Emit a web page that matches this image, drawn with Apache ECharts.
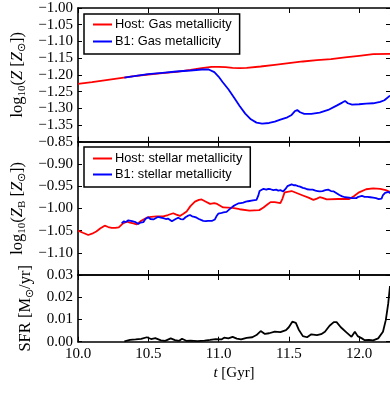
<!DOCTYPE html>
<html><head><meta charset="utf-8">
<script src="https://cdn.jsdelivr.net/npm/echarts@6/dist/echarts.min.js"></script>
<style>html,body{margin:0;padding:0;background:#fff}#c{width:390px;height:402px}</style>
</head><body><div id="c"></div>
<script>
// ---- data ----
const xTicks = [10.0, 10.5, 11.0, 11.5, 12.0];

const hostGasT = [10.00,10.10,10.20,10.30,10.40,10.50,10.60,10.70,10.80,10.88,10.95,11.00,11.05,11.10,11.15,11.20,11.30,11.40,11.50,11.60,11.70,11.80,11.90,12.00,12.10,12.22];
const hostGasZ = [-1.227,-1.222,-1.216,-1.210,-1.204,-1.199,-1.195,-1.191,-1.185,-1.180,-1.176,-1.176,-1.177,-1.179,-1.180,-1.179,-1.175,-1.170,-1.165,-1.160,-1.156,-1.153,-1.148,-1.143,-1.138,-1.137];

const b1GasT = [10.33,10.40,10.50,10.60,10.70,10.80,10.88,10.93,10.97,11.00,11.03,11.07,11.11,11.15,11.19,11.23,11.27,11.31,11.36,11.40,11.44,11.49,11.52,11.545,11.56,11.58,11.61,11.66,11.72,11.78,11.84,11.88,11.90,11.92,11.95,12.00,12.05,12.10,12.15,12.18,12.22];
const b1GasZ = [-1.208,-1.204,-1.198,-1.194,-1.190,-1.187,-1.184,-1.184,-1.192,-1.205,-1.222,-1.243,-1.268,-1.293,-1.316,-1.333,-1.343,-1.346,-1.344,-1.340,-1.334,-1.327,-1.320,-1.308,-1.305,-1.312,-1.317,-1.317,-1.313,-1.305,-1.292,-1.283,-1.278,-1.285,-1.289,-1.288,-1.286,-1.285,-1.281,-1.276,-1.262];

const hostStT = [10.000,10.035,10.073,10.100,10.130,10.160,10.190,10.215,10.240,10.265,10.290,10.320,10.346,10.370,10.394,10.417,10.450,10.489,10.520,10.560,10.607,10.640,10.678,10.700,10.725,10.750,10.773,10.800,10.832,10.860,10.880,10.910,10.940,10.970,10.990,11.033,11.100,11.150,11.220,11.290,11.320,11.345,11.370,11.400,11.440,11.455,11.470,11.520,11.560,11.600,11.640,11.675,11.700,11.720,11.745,11.770,11.850,11.930,11.965,12.000,12.050,12.100,12.150,12.190,12.220];
const hostStZ = [-1.050,-1.055,-1.060,-1.057,-1.052,-1.045,-1.039,-1.042,-1.044,-1.044,-1.043,-1.034,-1.030,-1.032,-1.034,-1.036,-1.028,-1.021,-1.019,-1.018,-1.018,-1.015,-1.011,-1.014,-1.017,-1.012,-1.007,-0.995,-0.985,-0.981,-0.980,-0.985,-0.990,-0.988,-0.990,-0.998,-0.999,-1.002,-1.005,-1.004,-0.998,-0.992,-0.986,-0.986,-0.988,-0.978,-0.964,-0.961,-0.966,-0.971,-0.976,-0.981,-0.978,-0.975,-0.977,-0.980,-0.979,-0.979,-0.972,-0.964,-0.957,-0.955,-0.956,-0.959,-0.963];

const b1StT = [10.311,10.325,10.340,10.358,10.372,10.385,10.394,10.410,10.429,10.445,10.465,10.480,10.492,10.500,10.515,10.536,10.550,10.571,10.590,10.607,10.625,10.640,10.654,10.668,10.678,10.695,10.713,10.730,10.749,10.765,10.780,10.797,10.812,10.828,10.844,10.860,10.875,10.891,10.910,10.925,10.939,10.955,10.974,10.985,10.998,11.015,11.035,11.057,11.075,11.090,11.105,11.122,11.140,11.158,11.176,11.195,11.210,11.223,11.245,11.270,11.282,11.292,11.305,11.320,11.340,11.355,11.370,11.390,11.410,11.425,11.440,11.460,11.475,11.490,11.500,11.520,11.535,11.550,11.565,11.580,11.600,11.615,11.630,11.650,11.670,11.690,11.705,11.720,11.740,11.760,11.780,11.800,11.820,11.840,11.860,11.880,11.900,11.910,11.930,11.950,11.980,11.995,12.006,12.020,12.040,12.060,12.080,12.100,12.120,12.140,12.150,12.160,12.170,12.185,12.195,12.210,12.220];
const b1StZ = [-1.034,-1.029,-1.031,-1.027,-1.031,-1.029,-1.033,-1.031,-1.035,-1.032,-1.031,-1.024,-1.021,-1.020,-1.024,-1.025,-1.021,-1.019,-1.021,-1.022,-1.024,-1.023,-1.026,-1.029,-1.030,-1.024,-1.021,-1.024,-1.025,-1.020,-1.017,-1.015,-1.018,-1.019,-1.021,-1.024,-1.026,-1.028,-1.029,-1.028,-1.031,-1.028,-1.025,-1.018,-1.012,-1.011,-1.009,-1.008,-1.003,-0.999,-0.995,-0.992,-0.989,-0.988,-0.987,-0.985,-0.984,-0.983,-0.982,-0.981,-0.972,-0.961,-0.958,-0.956,-0.958,-0.956,-0.957,-0.959,-0.958,-0.960,-0.959,-0.962,-0.957,-0.950,-0.947,-0.946,-0.948,-0.948,-0.950,-0.951,-0.954,-0.955,-0.957,-0.958,-0.958,-0.960,-0.961,-0.962,-0.961,-0.959,-0.958,-0.961,-0.962,-0.966,-0.970,-0.973,-0.975,-0.977,-0.976,-0.977,-0.977,-0.974,-0.972,-0.972,-0.974,-0.974,-0.975,-0.976,-0.977,-0.979,-0.981,-0.978,-0.970,-0.965,-0.962,-0.963,-0.966];

const sfrT = [10.33,10.37,10.41,10.45,10.49,10.52,10.55,10.59,10.62,10.66,10.69,10.72,10.74,10.77,10.80,10.85,10.90,10.94,10.98,11.02,11.04,11.07,11.10,11.13,11.16,11.20,11.24,11.27,11.30,11.33,11.36,11.40,11.44,11.48,11.50,11.525,11.55,11.57,11.60,11.63,11.66,11.70,11.73,11.757,11.79,11.82,11.84,11.87,11.91,11.946,11.97,11.99,12.02,12.04,12.07,12.10,12.136,12.15,12.17,12.19,12.207,12.22];
const sfrV = [0.0002,0.0008,0.0010,0.0013,0.0020,0.0012,0.0016,0.0006,0.0004,0.0015,0.0007,0.0004,0.0013,0.0004,0.0005,0.0003,0.0005,0.0008,0.0012,0.0010,0.0018,0.0015,0.0022,0.0014,0.0010,0.0017,0.0020,0.0030,0.0048,0.0035,0.0038,0.0045,0.0043,0.0052,0.0065,0.0090,0.0085,0.0055,0.0025,0.0020,0.0033,0.0030,0.0034,0.0045,0.0072,0.0088,0.0088,0.0065,0.0042,0.0022,0.0045,0.0025,0.0015,0.0007,0.0008,0.0006,0.0015,0.0020,0.0045,0.0097,0.0170,0.0250];

const names = ['Host: Gas metallicity','B1: Gas metallicity','Host: stellar metallicity','B1: stellar metallicity','SFR'];
// ---------------------------------------

const zip = (a, b) => a.map((v, i) => [v, b[i]]);
const SERIF = 'Liberation Serif';
const SANS = 'Liberation Sans';
const RED = '#ff0000', BLUE = '#0000ff';
const X_MIN = 10, X_MAX = 12.22;

const grids = [
  {left: 78, right: 0, top: 8, height: 133.7},
  {left: 78, right: 0, top: 141.7, height: 133.3},
  {left: 78, right: 0, top: 275, height: 66.7}
];
const yCfg = [
  {min: -1.40, max: -1.00, interval: 0.05, hideMin: true},
  {min: -1.15, max: -0.85, interval: 0.05, hideMin: true},
  {min: 0, max: 0.03, interval: 0.01, hideMin: false}
];
const fmtY = v => (v < 0 ? '\u2212' : '') + Math.abs(v).toFixed(2);
const rich = {
  t: {fontFamily: SERIF, fontSize: 15, color: '#000', lineHeight: 18},
  i: {fontFamily: SERIF, fontSize: 15, fontStyle: 'italic', color: '#000', lineHeight: 18},
  s: {fontFamily: SERIF, fontSize: 10, color: '#000', lineHeight: 10, verticalAlign: 'bottom'}
};
const richY = {
  t: {fontFamily: SERIF, fontSize: 16.5, color: '#000', lineHeight: 20},
  i: {fontFamily: SERIF, fontSize: 16.5, fontStyle: 'italic', color: '#000', lineHeight: 20},
  s: {fontFamily: SERIF, fontSize: 11, color: '#000', lineHeight: 11, verticalAlign: 'bottom'}
};
const yNames = [
  '{t|log}{s|10}{t|(}{i|Z}{t| [}{i|Z}{s|\u2299}{t|])}',
  '{t|log}{s|10}{t|(}{i|Z}{s|B}{t| [}{i|Z}{s|\u2299}{t|])}',
  '{t|SFR [M}{s|\u2299}{t|/yr]}'
];
const yGaps = [50, 50, 37];

const xAxis = [], yAxis = [];
grids.forEach((g, i) => {
  const tickBase = {show: true, inside: true, length: 5, customValues: xTicks, lineStyle: {color: '#000', width: 1}};
  xAxis.push({
    gridIndex: i, type: 'value', min: X_MIN, max: X_MAX, position: 'bottom',
    axisLine: {show: true, onZero: false, lineStyle: {color: '#000', width: 1.6}},
    axisTick: tickBase,
    axisLabel: {show: i === 2, customValues: xTicks, formatter: v => v.toFixed(1), fontFamily: SERIF, fontSize: 15, color: '#000', margin: 5},
    splitLine: {show: false},
    name: i === 2 ? '{i|t}{t| [Gyr]}' : '', nameLocation: 'middle', nameGap: 22,
    nameTextStyle: {rich: rich}
  });
  xAxis.push({
    gridIndex: i, type: 'value', min: X_MIN, max: X_MAX, position: 'top',
    axisLine: {show: true, onZero: false, lineStyle: {color: '#000', width: 1.6}},
    axisTick: tickBase, axisLabel: {show: false}, splitLine: {show: false}
  });
  const y = yCfg[i];
  yAxis.push({
    gridIndex: i, type: 'value', min: y.min, max: y.max, interval: y.interval, position: 'left',
    axisLine: {show: true, onZero: false, lineStyle: {color: '#000', width: 1.6}},
    axisTick: {show: true, inside: true, length: 4, lineStyle: {color: '#000', width: 1}},
    axisLabel: {formatter: fmtY, showMinLabel: !y.hideMin, showMaxLabel: true, fontFamily: SERIF, fontSize: 15, color: '#000', margin: 5},
    splitLine: {show: false},
    name: yNames[i], nameLocation: 'middle', nameGap: yGaps[i], nameTextStyle: {rich: richY}
  });
  yAxis.push({
    gridIndex: i, type: 'value', min: y.min, max: y.max, interval: y.interval, position: 'right',
    axisLine: {show: false, onZero: false},
    axisTick: {show: true, inside: true, length: 4, lineStyle: {color: '#000', width: 1}},
    axisLabel: {show: false}, splitLine: {show: false}
  });
});

const line = (name, data, color, gi) => ({
  name: name, type: 'line', data: data, xAxisIndex: gi * 2, yAxisIndex: gi * 2,
  showSymbol: false, symbol: 'none', smooth: false, clip: true,
  lineStyle: {color: color, width: 1.8}, itemStyle: {color: color}
});

const legendBase = {
  orient: 'vertical', left: 84, icon: 'rect', itemWidth: 19, itemHeight: 2,
  borderColor: '#000', borderWidth: 1.5, borderRadius: 0, backgroundColor: '#fff',
  selectedMode: false,
  textStyle: {fontFamily: SANS, fontSize: 12.8, color: '#000', lineHeight: 15, padding: [0, 0, 0, -2]}
};

const option = {
  animation: false,
  backgroundColor: '#fff',
  grid: grids,
  xAxis: xAxis,
  yAxis: yAxis,
  legend: [
    Object.assign({}, legendBase, {top: 14, data: [names[0], names[1]], itemGap: 2, padding: [3, 8, 5, 9]}),
    Object.assign({}, legendBase, {top: 147, data: [names[2], names[3]], itemGap: 1, padding: [4, 8, 5, 9]})
  ],
  series: [
    line(names[0], zip(hostGasT, hostGasZ), RED, 0),
    line(names[1], zip(b1GasT, b1GasZ), BLUE, 0),
    line(names[2], zip(hostStT, hostStZ), RED, 1),
    line(names[3], zip(b1StT, b1StZ), BLUE, 1),
    line(names[4], zip(sfrT, sfrV), '#000', 2)
  ]
};
const chart = echarts.init(document.getElementById('c'), null, {renderer: 'canvas'});
chart.setOption(option);
</script></body></html>
